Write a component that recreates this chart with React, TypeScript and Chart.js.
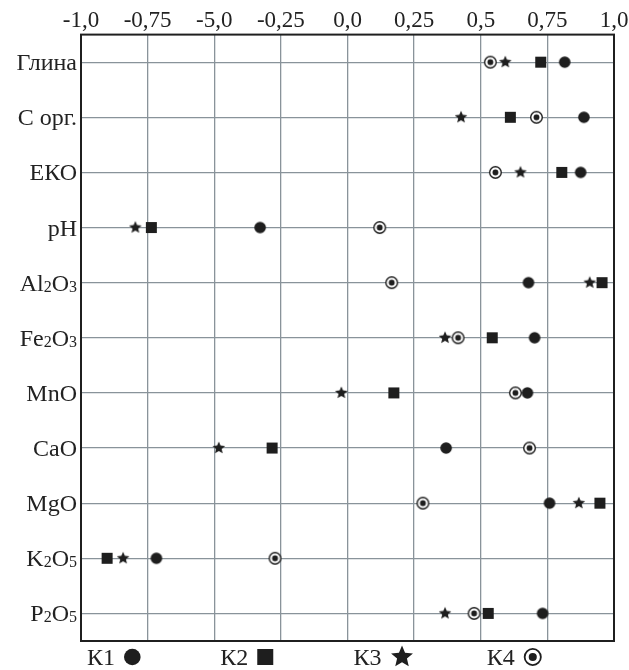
import React, { useEffect, useRef } from "react";
import { Chart, registerables } from "chart.js";

Chart.register(...registerables);

// ---- data ----
const categories = ["Глина", "С орг.", "ЕКО", "pH", "Al2O3", "Fe2O3", "MnO", "CaO", "MgO", "K2O5", "P2O5"];
const xTickLabels = ["-1,0", "-0,75", "-5,0", "-0,25", "0,0", "0,25", "0,5", "0,75", "1,0"];
const seriesNames = ["К1", "К2", "К3", "К4"];
const k1 = [0.815, 0.887, 0.875, -0.328, 0.679, 0.702, 0.675, 0.37, 0.758, -0.717, 0.732];
const k2 = [0.725, 0.611, 0.804, -0.736, 0.955, 0.543, 0.174, -0.283, 0.947, -0.902, 0.528];
const k3 = [0.592, 0.426, 0.649, -0.796, 0.909, 0.366, -0.023, -0.483, 0.868, -0.842, 0.366];
const k4 = [0.536, 0.709, 0.555, 0.121, 0.166, 0.415, 0.63, 0.683, 0.283, -0.272, 0.475];

const INK = "#1e1e1e";
const GRID = "#89939a";
const FONT = '"Liberation Serif", "Times New Roman", serif';

type Kind = "circle" | "square" | "star" | "ring";
const kinds: Kind[] = ["circle", "square", "star", "ring"];

function drawMarker(ctx: CanvasRenderingContext2D, kind: Kind, cx: number, cy: number, s: number) {
  ctx.save();
  ctx.fillStyle = INK;
  ctx.strokeStyle = INK;
  if (kind === "circle") {
    ctx.beginPath();
    ctx.arc(cx, cy, s, 0, Math.PI * 2);
    ctx.fill();
  } else if (kind === "square") {
    ctx.fillRect(cx - s, cy - s, 2 * s, 2 * s);
  } else if (kind === "star") {
    const inner = s * 0.45;
    ctx.beginPath();
    for (let i = 0; i < 10; i++) {
      const r = i % 2 === 0 ? s : inner;
      const a = -Math.PI / 2 + (i * Math.PI) / 5;
      const px = cx + r * Math.cos(a);
      const py = cy + r * Math.sin(a);
      if (i === 0) ctx.moveTo(px, py);
      else ctx.lineTo(px, py);
    }
    ctx.closePath();
    ctx.fill();
  } else {
    const lw = Math.max(1.4, s * 0.2);
    ctx.beginPath();
    ctx.arc(cx, cy, s - lw / 2, 0, Math.PI * 2);
    ctx.fillStyle = "#ffffff";
    ctx.fill();
    ctx.lineWidth = lw;
    ctx.stroke();
    ctx.beginPath();
    ctx.arc(cx, cy, s * 0.45, 0, Math.PI * 2);
    ctx.fillStyle = INK;
    ctx.fill();
  }
  ctx.restore();
}

function makeMarkerImage(kind: Kind, s: number): HTMLCanvasElement {
  const c = document.createElement("canvas");
  const size = Math.ceil(2 * s) + 2;
  c.width = size;
  c.height = size;
  const ctx = c.getContext("2d")!;
  drawMarker(ctx, kind, size / 2, size / 2, s);
  return c;
}

const plotSizes: Record<Kind, number> = { circle: 5.8, square: 5.5, star: 6.6, ring: 6.5 };
const legendSizes: Record<Kind, number> = { circle: 8.3, square: 8, star: 11.5, ring: 9 };

const decorPlugin = {
  id: "decor",
  afterDraw(chart: any) {
    const { ctx, chartArea: a, scales } = chart;
    const ys = scales.y;
    ctx.save();
    // frame
    ctx.strokeStyle = "#1f1f1f";
    ctx.lineWidth = 2;
    ctx.strokeRect(a.left, a.top, a.right - a.left, a.bottom - a.top);

    // category labels with subscript digits
    const big = `24px ${FONT}`;
    const small = `16px ${FONT}`;
    ctx.fillStyle = "#222";
    ctx.textBaseline = "alphabetic";
    ctx.textAlign = "left";
    categories.forEach((lab, i) => {
      const y = ys.getPixelForValue(i);
      const parts = lab.split(/(\d+)/).filter((p) => p.length > 0);
      let total = 0;
      const widths = parts.map((p) => {
        ctx.font = /^\d+$/.test(p) ? small : big;
        const w = ctx.measureText(p).width;
        total += w;
        return w;
      });
      let x = a.left - 4 - total;
      parts.forEach((p, j) => {
        const sub = /^\d+$/.test(p);
        ctx.font = sub ? small : big;
        ctx.fillText(p, x, y + 8 + (sub ? 1 : 0));
        x += widths[j];
      });
    });

    // legend below the frame
    const step = (a.right - a.left) / 4;
    ctx.font = big;
    seriesNames.forEach((name, i) => {
      const tx = a.left + 6 + i * step;
      const baseY = a.bottom + 24;
      ctx.fillStyle = "#222";
      ctx.fillText(name, tx, baseY);
      const w = ctx.measureText(name).width;
      const k = kinds[i];
      const s = legendSizes[k];
      drawMarker(ctx, k, tx + w + 9 + s, baseY - 8, s);
    });
    ctx.restore();
  },
};

export default function App() {
  const ref = useRef<HTMLCanvasElement>(null);
  useEffect(() => {
    const series = [k1, k2, k3, k4];
    const chart = new Chart(ref.current!, {
      type: "scatter",
      data: {
        datasets: series.map((vals, i) => ({
          label: seriesNames[i],
          data: vals.map((v, j) => ({ x: v, y: categories[j] as any })),
          pointStyle: makeMarkerImage(kinds[i], plotSizes[kinds[i]]),
          pointRadius: plotSizes[kinds[i]],
          showLine: false,
        })),
      },
      options: {
        responsive: false,
        animation: false,
        devicePixelRatio: 1,
        layout: { padding: { left: 81, right: 15, top: 7, bottom: 29 } },
        plugins: { legend: { display: false }, tooltip: { enabled: false } },
        scales: {
          x: {
            type: "linear",
            position: "top",
            min: -1,
            max: 1,
            ticks: {
              stepSize: 0.25,
              padding: 0,
              color: "#222",
              font: { family: FONT, size: 23 },
              callback: (_v: any, i: number) => xTickLabels[i],
              maxRotation: 0,
              autoSkip: false,
            },
            grid: { color: GRID, lineWidth: 1.3, drawTicks: false },
            border: { display: false },
          },
          y: {
            type: "category",
            labels: categories,
            offset: true,
            ticks: { display: false },
            grid: { color: GRID, lineWidth: 1.3, drawTicks: false, offset: false },
            border: { display: false },
          },
        },
      } as any,
      plugins: [decorPlugin],
    });
    return () => chart.destroy();
  }, []);
  return (
    <div style={{ position: "fixed", left: 0, top: 0, width: 629, height: 670, background: "#fff" }}>
      <canvas ref={ref} width={629} height={670} style={{ width: 629, height: 670, display: "block" }} />
    </div>
  );
}
